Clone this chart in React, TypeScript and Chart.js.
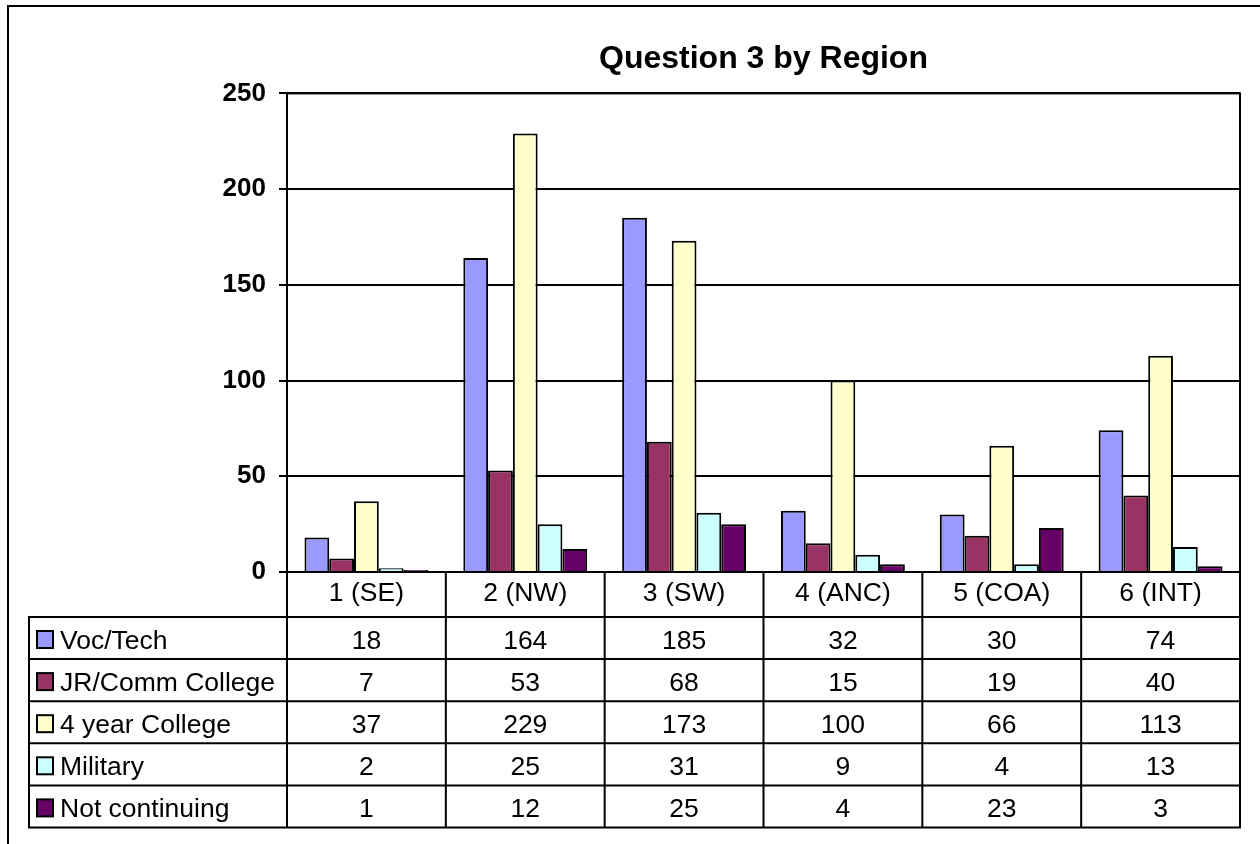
import React, { useEffect, useRef } from "react";
import { Chart, registerables } from "chart.js";

Chart.register(...registerables);

const chartTitle = "Question 3 by Region";
const categories = ["1 (SE)", "2 (NW)", "3 (SW)", "4 (ANC)", "5 (COA)", "6 (INT)"];
const seriesNames = ["Voc/Tech", "JR/Comm College", "4 year College", "Military", "Not continuing"];
const vocTech = [18, 164, 185, 32, 30, 74];
const jrComm = [7, 53, 68, 15, 19, 40];
const fourYear = [37, 229, 173, 100, 66, 113];
const military = [2, 25, 31, 9, 4, 13];
const notContinuing = [1, 12, 25, 4, 23, 3];
const seriesColors = ["#9999FF", "#993366", "#FFFFCC", "#CCFFFF", "#660066"];
const yMin = 0;
const yMax = 250;
const yStep = 50;

const FONT = '"Liberation Sans", Arial, Helvetica, sans-serif';
const TEXT_SIZE = 26.5;
const HEADER_H = 45;
const ROW_H = 42.1;
const TABLE_LEFT = 29;

const framePlugin = {
  id: "frame",
  beforeDraw(chart: any) {
    const ctx = chart.ctx;
    ctx.save();
    ctx.fillStyle = "#fff";
    ctx.fillRect(0, 0, chart.width, chart.height);
    ctx.strokeStyle = "#000";
    ctx.lineWidth = 2;
    ctx.strokeRect(8, 6, 1254, 900);
    ctx.restore();
  },
};

const tablePlugin = {
  id: "dataTable",
  afterDraw(chart: any) {
    const ctx = chart.ctx;
    const xs = chart.scales.x;
    const area = chart.chartArea;
    const n = categories.length;
    const colW = (area.right - area.left) / n;
    const sets = chart.data.datasets;
    const headerBottom = area.bottom + HEADER_H;
    const tableBottom = headerBottom + sets.length * ROW_H;
    ctx.save();
    ctx.strokeStyle = "#000";
    ctx.lineWidth = 2;
    ctx.lineCap = "square";
    ctx.strokeRect(area.left, area.top, area.right - area.left, area.bottom - area.top);
    ctx.beginPath();
    for (let i = 0; i <= n; i++) {
      const cx = i < n ? xs.getPixelForValue(i) - colW / 2 : xs.getPixelForValue(n - 1) + colW / 2;
      ctx.moveTo(cx, area.bottom);
      ctx.lineTo(cx, tableBottom);
    }
    for (let r = 0; r <= sets.length; r++) {
      const y = headerBottom + r * ROW_H;
      ctx.moveTo(TABLE_LEFT, y);
      ctx.lineTo(area.right, y);
    }
    ctx.moveTo(TABLE_LEFT, headerBottom);
    ctx.lineTo(TABLE_LEFT, tableBottom);
    ctx.stroke();

    ctx.font = `${TEXT_SIZE}px ${FONT}`;
    ctx.fillStyle = "#000";
    ctx.textBaseline = "alphabetic";
    sets.forEach((ds: any, r: number) => {
      const top = headerBottom + r * ROW_H;
      const base = top + 32;
      ctx.fillStyle = ds.backgroundColor;
      ctx.fillRect(37, top + 14, 16, 17);
      ctx.lineWidth = 2;
      ctx.strokeRect(37, top + 14, 16, 17);
      ctx.fillStyle = "#000";
      ctx.textAlign = "left";
      ctx.fillText(ds.label, 60, base);
      ctx.textAlign = "center";
      ds.data.forEach((v: number, i: number) => {
        ctx.fillText(String(v), xs.getPixelForValue(i), base);
      });
    });
    ctx.restore();
  },
};

export default function App() {
  const ref = useRef<HTMLCanvasElement>(null);
  useEffect(() => {
    if (!ref.current) return;
    const values = [vocTech, jrComm, fourYear, military, notContinuing];
    const chart = new Chart(ref.current, {
      type: "bar",
      data: {
        labels: categories,
        datasets: seriesNames.map((name, i) => ({
          label: name,
          data: values[i],
          backgroundColor: seriesColors[i],
          borderColor: "#000",
          borderWidth: 2,
          categoryPercentage: 0.78,
          barPercentage: 1,
        })),
      },
      options: {
        responsive: false,
        animation: false,
        devicePixelRatio: 1,
        layout: { padding: { left: 0, right: 20, top: 20, bottom: 0 } },
        plugins: {
          legend: { display: false },
          tooltip: { enabled: false },
          title: {
            display: true,
            text: chartTitle,
            fullSize: false,
            color: "#000",
            font: { family: FONT, size: 32, weight: "bold" },
            padding: { top: 20, bottom: 15 },
          },
        },
        scales: {
          x: {
            grid: { display: false, drawTicks: false },
            border: { display: true, color: "#000", width: 2 },
            ticks: {
              color: "#000",
              font: { family: FONT, size: TEXT_SIZE },
              padding: 6,
              maxRotation: 0,
              autoSkip: false,
            },
            afterFit: (s: any) => {
              s.height = 272;
            },
          },
          y: {
            min: yMin,
            max: yMax,
            grid: { color: "#000", lineWidth: 2, tickLength: 8, drawTicks: true },
            border: { display: true, color: "#000", width: 2 },
            ticks: {
              stepSize: yStep,
              color: "#000",
              padding: 13,
              font: { family: FONT, size: 26, weight: "bold" },
            },
            afterFit: (s: any) => {
              s.width = 287;
            },
          },
        },
      },
      plugins: [framePlugin, tablePlugin],
    });
    return () => chart.destroy();
  }, []);
  return (
    <div style={{ position: "absolute", left: 0, top: 0, width: 1260, height: 844 }}>
      <canvas ref={ref} width={1260} height={844} style={{ display: "block", width: 1260, height: 844 }} />
    </div>
  );
}
